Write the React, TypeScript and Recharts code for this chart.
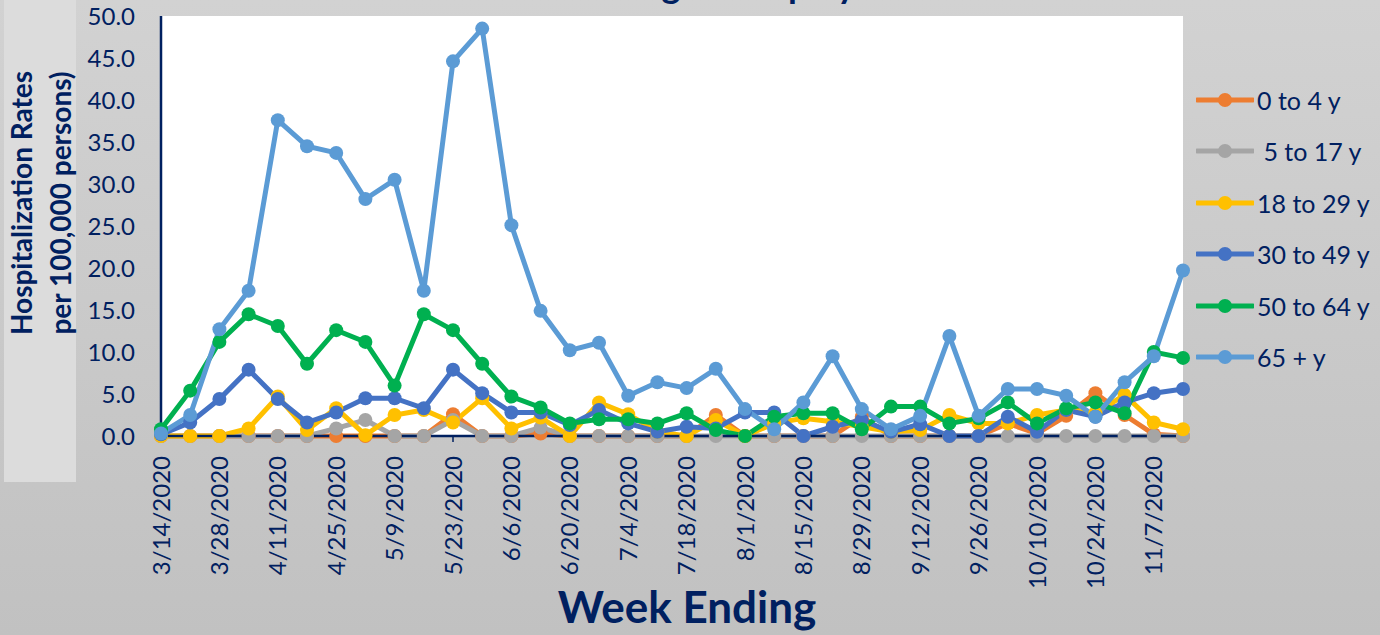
import React from "react"
import { LineChart, Line, XAxis, YAxis, CartesianGrid, Legend } from "recharts"

const weeks = [
  "3/14/2020", "3/21/2020", "3/28/2020", "4/4/2020", "4/11/2020", "4/18/2020",
  "4/25/2020", "5/2/2020", "5/9/2020", "5/16/2020", "5/23/2020", "5/30/2020",
  "6/6/2020", "6/13/2020", "6/20/2020", "6/27/2020", "7/4/2020", "7/11/2020",
  "7/18/2020", "7/25/2020", "8/1/2020", "8/8/2020", "8/15/2020", "8/22/2020",
  "8/29/2020", "9/5/2020", "9/12/2020", "9/19/2020", "9/26/2020", "10/3/2020",
  "10/10/2020", "10/17/2020", "10/24/2020", "10/31/2020", "11/7/2020", "11/14/2020",
]

const age0to4 = [0, 0, 0, 0, 0, 0, 0, 0, 0, 0, 2.6, 0, 0, 0.3, 0, 0, 0, 0, 0, 2.5, 0, 0, 0, 0, 2.3, 0, 0, 0, 0, 1.5, 0.3, 2.4, 5.1, 2.5, 0.2, 0]
const age5to17 = [0, 0, 0, 0, 0, 0, 0.9, 1.9, 0, 0, 1.9, 0, 0, 1.0, 0, 0, 0, 0, 0, 0, 0, 0, 0, 0, 0, 0, 0, 0, 0, 0, 0, 0, 0, 0, 0, 0]
const age18to29 = [0, 0, 0, 0.9, 4.7, 0.7, 3.3, 0.1, 2.5, 3.1, 1.6, 4.5, 0.9, 2.2, 0, 4.0, 2.6, 0.5, 0, 1.9, 0, 1.5, 2.1, 1.7, 1.1, 0.5, 0.7, 2.5, 1.5, 1.5, 2.5, 3.1, 2.7, 4.9, 1.6, 0.8]
const age30to49 = [0.2, 1.6, 4.4, 7.9, 4.4, 1.6, 2.8, 4.5, 4.5, 3.3, 7.9, 5.1, 2.8, 2.8, 1.3, 3.1, 1.5, 0.5, 1.1, 0.9, 2.8, 2.8, 0, 1.1, 1.9, 0.5, 1.4, 0, 0, 2.3, 0.5, 3.1, 2.3, 4.0, 5.1, 5.6]
const age50to64 = [0.8, 5.4, 11.2, 14.5, 13.1, 8.6, 12.6, 11.2, 6.0, 14.5, 12.6, 8.6, 4.7, 3.4, 1.5, 2.0, 2.0, 1.5, 2.7, 0.7, 0, 2.3, 2.7, 2.7, 0.8, 3.5, 3.5, 1.5, 2.1, 4.0, 1.5, 3.3, 4.0, 2.7, 10.0, 9.3]
const age65plus = [0.3, 2.5, 12.7, 17.3, 37.6, 34.5, 33.7, 28.2, 30.5, 17.3, 44.6, 48.5, 25.1, 14.9, 10.2, 11.1, 4.8, 6.4, 5.7, 8.0, 3.2, 0.8, 4.0, 9.5, 3.2, 0.8, 2.4, 11.9, 2.4, 5.6, 5.6, 4.8, 2.3, 6.4, 9.5, 19.7]

const seriesNames = ["0 to 4 y", " 5 to 17 y", "18 to 29 y", "30 to 49 y", "50 to 64 y", "65 + y"]
const seriesColors = ["#ed7d31", "#a5a5a5", "#ffc000", "#4472c4", "#00b050", "#5b9bd5"]
const seriesValues = [age0to4, age5to17, age18to29, age30to49, age50to64, age65plus]
const yTicks = [0, 5, 10, 15, 20, 25, 30, 35, 40, 45, 50]

const NAVY = "#002060"
const FONT = "Lato, 'Open Sans', sans-serif"

const data = weeks.map((week, i) => {
  const row: Record<string, string | number> = { week }
  seriesValues.forEach((vals, s) => {
    row["s" + s] = vals[i]
  })
  return row
})

function WeekTick({ x, y, payload }: any) {
  return (
    <text
      x={x}
      y={y}
      dy="0.36em"
      textAnchor="end"
      transform={`rotate(-90 ${x} ${y})`}
      fill={NAVY}
      fontSize={24}
      fontFamily={FONT}
    >
      {payload.value}
    </text>
  )
}

function LegendList({ payload }: any) {
  // keep series order (the default sorter puts " 5 to 17 y" first)
  const items = [...(payload || [])].sort(
    (a: any, b: any) => seriesNames.indexOf(a.value) - seriesNames.indexOf(b.value)
  )
  return (
    <div>
      {items.map((p: any) => (
        <div key={p.value} style={{ display: "flex", alignItems: "center", height: 51.5 }}>
          <svg width={58} height={18} style={{ marginRight: 3 }}>
            <line x1={1} y1={9} x2={57} y2={9} stroke={p.color} strokeWidth={5} strokeLinecap="round" />
            <circle cx={29} cy={9} r={7} fill={p.color} />
          </svg>
          <span style={{ color: NAVY, fontSize: 25, fontFamily: FONT, whiteSpace: "pre" }}>{p.value}</span>
        </div>
      ))}
    </div>
  )
}

export default function App() {
  return (
    <div
      style={{
        position: "absolute",
        left: 0,
        top: 0,
        width: 1380,
        height: 635,
        overflow: "hidden",
        background: "linear-gradient(#d2d2d2, #c1c1c1)",
        fontFamily: FONT,
      }}
    >
      {/* light box behind y title */}
      <div style={{ position: "absolute", left: 4, top: 0, width: 72, height: 482, background: "#dcdcdc" }} />

      {/* title, mostly above the visible area */}
      <div
        style={{
          position: "absolute", left: 400, top: -36, fontSize: 36, lineHeight: "40px",
          fontWeight: 700, color: NAVY, whiteSpace: "nowrap",
        }}
      >
        Rates for Each Age Group by Week
      </div>

      {/* y axis title */}
      <div
        style={{
          position: "absolute", left: 41, top: 203, width: 320, transform: "translate(-50%, -50%) rotate(-90deg)",
          textAlign: "center", color: NAVY, fontWeight: 700, fontSize: 28, lineHeight: "39px",
        }}
      >
        Hospitalization Rates
        <br />
        per 100,000 persons)
      </div>

      {/* x axis title */}
      <div
        style={{
          position: "absolute", left: 687, top: 606, transform: "translate(-50%, -50%)",
          color: NAVY, fontWeight: 700, fontSize: 44, whiteSpace: "nowrap",
        }}
      >
        Week Ending
      </div>

      <div style={{ position: "absolute", left: 0, top: 0 }}>
        <LineChart width={1380} height={635} data={data} margin={{ top: 16, right: 13, bottom: 59, left: 91 }}>
          <CartesianGrid fill="#ffffff" horizontal={false} vertical={false} />
          <XAxis
            dataKey="week"
            interval={1}
            height={140}
            tick={<WeekTick />}
            tickSize={6}
            tickMargin={14}
            tickLine={{ stroke: NAVY, strokeWidth: 1.5 }}
            axisLine={{ stroke: NAVY, strokeWidth: 2.5 }}
          />
          <XAxis
            xAxisId="top"
            dataKey="week"
            orientation="top"
            height={0}
            tick={false}
            tickLine={false}
            axisLine={{ stroke: NAVY, strokeWidth: 2.5 }}
          />
          <YAxis
            domain={[0, 50]}
            ticks={yTicks}
            width={70}
            tickSize={0}
            tickMargin={26}
            tickLine={false}
            tickFormatter={(v: number) => v.toFixed(1)}
            tick={{ fill: NAVY, fontSize: 24, fontFamily: FONT }}
            axisLine={{ stroke: NAVY, strokeWidth: 2.5 }}
          />
          <YAxis
            yAxisId="right"
            orientation="right"
            domain={[0, 50]}
            width={0}
            tick={false}
            tickLine={false}
            axisLine={{ stroke: NAVY, strokeWidth: 2.5 }}
          />
          <Legend
            layout="vertical"
            align="right"
            verticalAlign="top"
            content={<LegendList />}
            wrapperStyle={{ position: "absolute", left: 1196, top: 74, width: 184 }}
          />
          {seriesNames.map((name, s) => (
            <Line
              key={name}
              dataKey={"s" + s}
              name={name}
              stroke={seriesColors[s]}
              strokeWidth={5}
              dot={{ r: 7, fill: seriesColors[s], stroke: "none" }}
              activeDot={false}
              isAnimationActive={false}
            />
          ))}
        </LineChart>
      </div>
    </div>
  )
}
